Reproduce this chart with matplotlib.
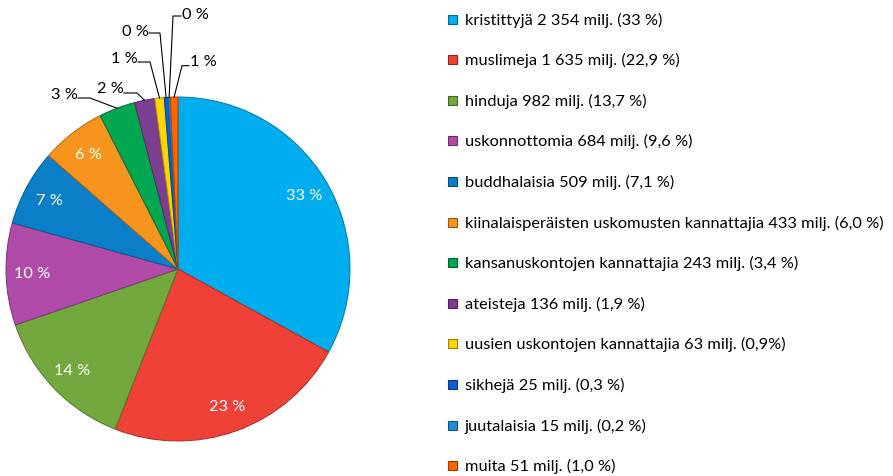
import matplotlib
matplotlib.use("Agg")
import matplotlib.pyplot as plt
import matplotlib.colors as mcolors
from matplotlib.patches import Rectangle
import numpy as np

plt.rcParams['font.family'] = ['Lato', 'DejaVu Sans']

# ---- data ----
categories = ["kristittyjä", "muslimeja", "hinduja", "uskonnottomia", "buddhalaisia",
              "kiinalaisperäisten uskomusten kannattajia", "kansanuskontojen kannattajia",
              "ateisteja", "uusien uskontojen kannattajia", "sikhejä", "juutalaisia", "muita"]
values = [2354, 1635, 982, 684, 509, 433, 243, 136, 63, 25, 15, 51]
legend_labels = ["kristittyjä 2 354 milj. (33 %)",
                 "muslimeja 1 635 milj. (22,9 %)",
                 "hinduja 982 milj. (13,7 %)",
                 "uskonnottomia 684 milj. (9,6 %)",
                 "buddhalaisia 509 milj. (7,1 %)",
                 "kiinalaisperäisten uskomusten kannattajia 433 milj. (6,0 %)",
                 "kansanuskontojen kannattajia 243 milj. (3,4 %)",
                 "ateisteja 136 milj. (1,9 %)",
                 "uusien uskontojen kannattajia 63 milj. (0,9%)",
                 "sikhejä 25 milj. (0,3 %)",
                 "juutalaisia 15 milj. (0,2 %)",
                 "muita 51 milj. (1,0 %)"]
colors = ["#00AEEF", "#EF4136", "#72A83E", "#B04BA9", "#0A7EC6", "#F7941D",
          "#00A650", "#7C3E90", "#FFD500", "#0B5FD9", "#1A8ED0", "#FF6400"]

W, H = 893, 477
FS = 11.8
fig = plt.figure(figsize=(W / 100, H / 100), dpi=100)

# pie axes: centre (178, 270) px, radius 172 px
cx, cy, R = 178, 270, 172
ax = fig.add_axes([(cx - R) / W, (H - cy - R) / H, 2 * R / W, 2 * R / H])

def darker(c, f=0.7):
    r, g, b = mcolors.to_rgb(c)
    return (r * f, g * f, b * f)

wedges, _ = ax.pie(values, colors=colors, startangle=90, counterclock=False,
                   radius=1, center=(0, 0), frame=False,
                   wedgeprops=dict(linewidth=0.7))
for w, c in zip(wedges, colors):
    w.set_edgecolor(darker(c))
ax.set_xlim(-1, 1)
ax.set_ylim(-1, 1)
ax.set_aspect('equal')
ax.axis('off')

total = sum(values)
pct_text = ["%d %%" % round(v / total * 100) for v in values]

def px2data(px, py):
    return ((px - cx) / R, (cy - py) / R)

# inside labels for big slices
n_inside = 6
for i in range(n_inside):
    w = wedges[i]
    ang = np.deg2rad((w.theta1 + w.theta2) / 2)
    x, y = 0.85 * np.cos(ang), 0.85 * np.sin(ang)
    ax.text(x, y, pct_text[i], color="white", ha="center", va="center", fontsize=FS)

# outside labels with leader lines (text centre px, elbow px)
outside_layout = {
    6: ((64, 95), (90, 99), "right"),
    7: ((110, 89), (137, 94), "right"),
    8: ((124, 59), (150, 63), "right"),
    9: ((135, 32), (160, 34), "right"),
    10: ((195, 15), (173, 17), "left"),
    11: ((203, 62), (182, 66.7), "left"),
}
for i, (tpos, elbow, side) in outside_layout.items():
    w = wedges[i]
    ang = np.deg2rad((w.theta1 + w.theta2) / 2)
    ax_pt = (np.cos(ang), np.sin(ang))
    tx, ty = px2data(*tpos)
    ex, ey = px2data(*elbow)
    if side == "right":
        sx = px2data(tpos[0] + 14, 0)[0]
    else:
        sx = px2data(tpos[0] - 14, 0)[0]
    ax.plot([sx, ex, ax_pt[0]], [ey, ey, ax_pt[1]], color="black", lw=0.8,
            clip_on=False, solid_joinstyle="miter")
    ax.text(tx, ty, pct_text[i], color="black", ha="center", va="center",
            fontsize=FS, clip_on=False)

# legend (manual)
x_box, x_text = 452, 465
y0, dy = 20, 40.6
bs = 9
for i, (lab, c) in enumerate(zip(legend_labels, colors)):
    yy = y0 + i * dy
    fig.add_artist(Rectangle(((x_box - bs / 2) / W, 1 - (yy + bs / 2) / H), bs / W, bs / H,
                             transform=fig.transFigure, facecolor=c,
                             edgecolor=darker(c, 0.6), linewidth=0.8))
    fig.text(x_text / W, 1 - yy / H, lab, ha="left", va="center", fontsize=FS,
             color="black")

fig.savefig("out.png", dpi=100)
